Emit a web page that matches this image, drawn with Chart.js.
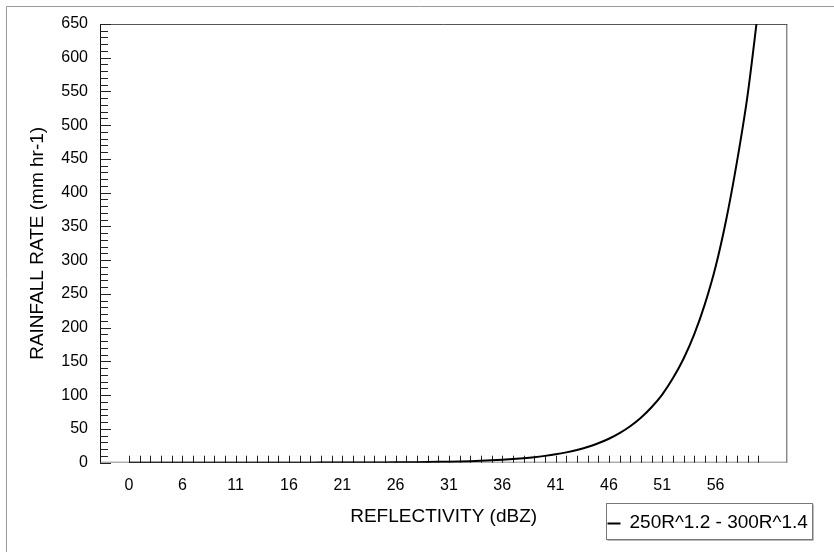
<!DOCTYPE html>
<html>
<head>
<meta charset="utf-8">
<script src="https://cdn.jsdelivr.net/npm/chart.js@4"></script>
<style>
  html, body { margin: 0; padding: 0; background: #fff; }
  #c { display: block; }
</style>
</head>
<body>
<canvas id="c" width="834" height="552"></canvas>
<script>
// ---- data ----
const categories = ["0","2","3","4","5","6","7","8","9","10",
  "11","12","13","14","15","16","17","18","19","20",
  "21","22","23","24","25","26","27","28","29","30",
  "31","32","33","34","35","36","37","38","39","40",
  "41","42","43","44","45","46","47","48","49","50",
  "51","52","53","54","55","56","57","58","59","60"];
const rainRate = [0.003, 0.0035, 0.004, 0.005, 0.0065, 0.008, 0.01, 0.012, 0.015, 0.018,
  0.023, 0.028, 0.035, 0.043, 0.053, 0.065, 0.08, 0.099, 0.122, 0.151,
  0.186, 0.23, 0.283, 0.35, 0.431, 0.532, 0.656, 0.81, 1.0, 1.23,
  1.52, 1.88, 2.31, 2.85, 3.52, 4.34, 5.36, 6.61, 8.15, 10.1,
  12.4, 15.3, 18.9, 23.3, 28.8, 35.5, 43.8, 54.0, 66.6, 82.2,
  101, 125, 154, 190, 235, 290, 360, 445, 544, 671];
const seriesLabel = "250R^1.2 - 300R^1.4";
const labelEvery = 5;
const yTicks = [0,50,100,150,200,250,300,350,400,450,500,550,600,650];
const xTitle = "REFLECTIVITY (dBZ)";
const yTitle = "RAINFALL RATE (mm hr-1)";

const FONT = "'Liberation Sans', Arial, sans-serif";

const points = rainRate.map((v, i) => ({ x: i, y: v }));
const labelIdx = categories.map((c, i) => i).filter(i => i % labelEvery === 0);

const decor = {
  id: 'decor',
  beforeDatasetsDraw(chart) {
    const { ctx, chartArea: ca, scales: { x, y } } = chart;
    ctx.save();
    // outer frame (left & top)
    ctx.strokeStyle = '#9a9a9a';
    ctx.lineWidth = 1;
    ctx.beginPath();
    ctx.moveTo(6.5, 552); ctx.lineTo(6.5, 6.5); ctx.lineTo(834, 6.5);
    ctx.stroke();
    // plot border
    ctx.strokeStyle = '#555';
    ctx.beginPath();
    ctx.moveTo(ca.left, ca.top + 0.5); ctx.lineTo(ca.right, ca.top + 0.5);
    ctx.moveTo(ca.right - 0.5, ca.top); ctx.lineTo(ca.right - 0.5, ca.bottom);
    ctx.stroke();
    ctx.strokeStyle = '#888';
    ctx.beginPath();
    ctx.moveTo(ca.left, ca.bottom - 0.5); ctx.lineTo(ca.right, ca.bottom - 0.5);
    ctx.stroke();
    ctx.strokeStyle = '#111';
    ctx.beginPath();
    ctx.moveTo(ca.left + 0.5, ca.top); ctx.lineTo(ca.left + 0.5, ca.bottom);
    ctx.stroke();
    // y ticks (inward)
    ctx.strokeStyle = '#222';
    ctx.beginPath();
    for (let v = y.min; v <= y.max; v += 10) {
      const py = Math.round(y.getPixelForValue(v)) + 0.5;
      const len = (v % 50 === 0) ? 11 : 8;
      ctx.moveTo(ca.left, py); ctx.lineTo(ca.left + len, py);
    }
    ctx.stroke();
    // x ticks (inward) at each category
    ctx.beginPath();
    categories.forEach((c, i) => {
      const px = Math.round(x.getPixelForValue(i)) + 0.5;
      ctx.moveTo(px, ca.bottom); ctx.lineTo(px, ca.bottom - 7);
    });
    ctx.stroke();
    ctx.restore();
  },
  afterDraw(chart) {
    const { ctx } = chart;
    const ds = chart.data.datasets[0];
    ctx.save();
    // legend box
    const bx = 606.5, by = 503.5, bw = 206, bh = 36;
    ctx.fillStyle = '#fff';
    ctx.fillRect(bx, by, bw, bh);
    ctx.strokeStyle = '#777';
    ctx.lineWidth = 1;
    ctx.strokeRect(bx, by, bw, bh);
    ctx.strokeStyle = '#bbb';
    ctx.beginPath();
    ctx.moveTo(bx + bw + 1, by + 1); ctx.lineTo(bx + bw + 1, by + bh + 1); ctx.lineTo(bx + 1, by + bh + 1);
    ctx.stroke();
    // sample line
    ctx.strokeStyle = ds.borderColor;
    ctx.lineWidth = 2;
    ctx.beginPath();
    ctx.moveTo(bx + 1, by + 20); ctx.lineTo(bx + 14, by + 20);
    ctx.stroke();
    ctx.fillStyle = '#000';
    ctx.font = "19px " + FONT;
    ctx.textBaseline = 'middle';
    ctx.textAlign = 'left';
    ctx.fillText(ds.label, bx + 23, by + 19);
    ctx.restore();
  }
};

new Chart(document.getElementById('c'), {
  type: 'line',
  data: {
    datasets: [{
      label: seriesLabel,
      data: points,
      borderColor: '#000',
      borderWidth: 2,
      pointRadius: 0,
      fill: false,
      cubicInterpolationMode: 'monotone'
    }]
  },
  options: {
    responsive: false,
    animation: false,
    devicePixelRatio: 1,
    layout: { padding: { left: 0, top: 24, right: 46.7, bottom: 0 } },
    plugins: { legend: { display: false }, tooltip: { enabled: false } },
    scales: {
      x: {
        type: 'linear',
        min: -2.72,
        max: 61.73,
        grid: { display: false, drawTicks: false },
        border: { display: false },
        afterBuildTicks: (s) => { s.ticks = labelIdx.map(v => ({ value: v })); },
        afterFit: (s) => { s.height = 89.3; },
        ticks: {
          autoSkip: false,
          maxRotation: 0,
          padding: 13,
          color: '#000',
          font: { family: FONT, size: 16 },
          callback: (v) => categories[v]
        },
        title: {
          display: true,
          text: xTitle,
          color: '#000',
          font: { family: FONT, size: 19 },
          padding: { top: 0, bottom: 24 }
        }
      },
      y: {
        min: 0,
        max: 650,
        grid: { display: false, drawTicks: false },
        border: { display: false },
        afterBuildTicks: (s) => { s.ticks = yTicks.map(v => ({ value: v })); },
        afterFit: (s) => { s.width = 100; },
        ticks: {
          autoSkip: false,
          padding: 12,
          color: '#000',
          font: { family: FONT, size: 16 }
        },
        title: {
          display: true,
          text: yTitle,
          color: '#000',
          font: { family: FONT, size: 19 },
          padding: { top: 26, bottom: 0 }
        }
      }
    }
  },
  plugins: [decor]
});
</script>
</body>
</html>
